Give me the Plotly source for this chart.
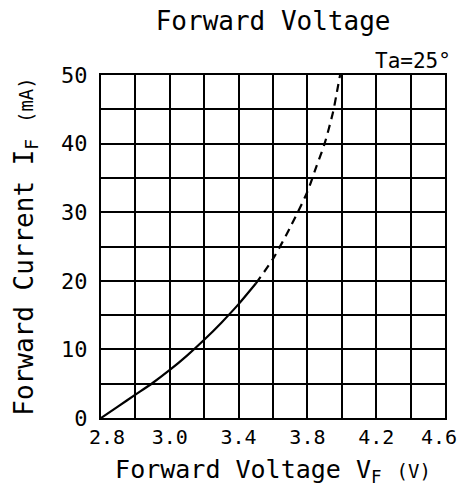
import plotly.graph_objects as go

# Data
solid_v = [2.6, 2.7, 2.8, 2.9, 3.0, 3.1, 3.2, 3.3, 3.4, 3.5]
solid_i = [0, 1.7, 3.4, 5.1, 7.0, 9.1, 11.4, 13.9, 16.6, 19.6]
dash_v = [3.5, 3.6, 3.7, 3.8, 3.85, 3.9, 3.95, 3.97, 3.99]
dash_i = [19.6, 23.2, 27.8, 33.0, 36.5, 40.0, 44.7, 47.3, 50.0]

x_tickvals = [2.6, 2.8, 3.0, 3.2, 3.4, 3.6, 3.8, 4.0, 4.2, 4.4, 4.6]
x_ticklabels = ["2.8", "", "3.0", "", "3.4", "", "3.8", "", "4.2", "", "4.6"]
y_tickvals = [0, 5, 10, 15, 20, 25, 30, 35, 40, 45, 50]
y_ticktext = ["0", "", "10", "", "20", "", "30", "", "40", "", "50"]

FONT = "DejaVu Sans Mono"

# pad the edge labels so they sit inside the frame, as in the reference
pad = "<span style='color:rgba(0,0,0,0)'>0</span>"
x_ticktext = list(x_ticklabels)
x_ticktext[0] = pad + x_ticktext[0]
x_ticktext[-1] = x_ticktext[-1] + pad

fig = go.Figure()
fig.add_trace(go.Scatter(x=solid_v, y=solid_i, mode="lines",
                         line=dict(color="black", width=2.2, shape="spline", smoothing=0.8),
                         showlegend=False))
fig.add_trace(go.Scatter(x=dash_v, y=dash_i, mode="lines",
                         line=dict(color="black", width=2.2, dash="8px,6px", shape="spline", smoothing=0.8),
                         showlegend=False))

fig.update_layout(
    width=459, height=494,
    margin=dict(l=101, r=14, t=75, b=76, autoexpand=False),
    paper_bgcolor="white", plot_bgcolor="white",
    font=dict(family=FONT, color="black", size=20),
    title=dict(text="Forward Voltage", x=0.595, xanchor="center", y=0.958, yanchor="middle",
               font=dict(family=FONT, size=26, color="black")),
    annotations=[dict(text="Ta=25°", xref="paper", yref="paper", x=1.0, y=1.0,
                      xanchor="right", yanchor="bottom", xshift=8, yshift=0, showarrow=False,
                      font=dict(family=FONT, size=21, color="black"))],
)
fig.update_xaxes(range=[2.6, 4.6], tickvals=x_tickvals, ticktext=x_ticktext,
                 showgrid=True, gridcolor="black", gridwidth=2,
                 showline=True, linecolor="black", linewidth=2, mirror=True,
                 ticks="", zeroline=False, ticklabeloverflow="allow", automargin=False,
                 tickfont=dict(family=FONT, size=20),
                 title=dict(text='Forward Voltage V<sub>F</sub> <span style="font-size:19px">(V)</span>',
                            font=dict(family=FONT, size=25), standoff=12))
fig.update_yaxes(range=[0, 50], tickvals=y_tickvals, ticktext=y_ticktext,
                 showgrid=True, gridcolor="black", gridwidth=2,
                 showline=True, linecolor="black", linewidth=2, mirror=True,
                 ticks="", zeroline=False, ticklabelstandoff=7, automargin=False,
                 tickfont=dict(family=FONT, size=22),
                 title=dict(text='Forward Current I<sub>F</sub> <span style="font-size:19px">(mA)</span>',
                            font=dict(family=FONT, size=26), standoff=20))

fig.write_html("out.html",
               config={"displayModeBar": False},
               post_script="document.body.style.margin='0';document.body.style.overflow='hidden';")
